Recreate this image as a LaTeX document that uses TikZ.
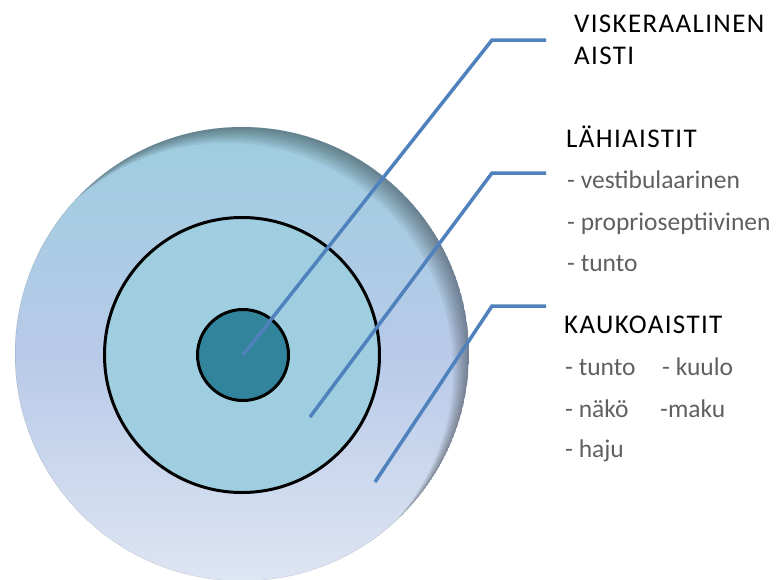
\documentclass[tikz,border=0pt]{standalone}
\usepackage{fontspec}
\setmainfont{Carlito}
\newfontfamily\headfont[LetterSpace=5]{Carlito}
\usetikzlibrary{positioning}

\definecolor{outertop}{RGB}{157,205,223}
\definecolor{outermid}{RGB}{184,202,232}
\definecolor{outerbot}{RGB}{222,229,243}
\definecolor{midfill}{RGB}{158,206,224}
\definecolor{corefill}{RGB}{49,132,155}
\definecolor{pointer}{RGB}{79,129,189}
\definecolor{itemgray}{RGB}{96,96,96}

\tikzstyle{outerdisc} = [circle, inner sep=0pt, minimum size=454pt, top color=outertop, bottom color=outerbot, middle color=outermid]
\tikzstyle{ring} = [circle, draw=black, line width=3pt, inner sep=0pt]
\tikzstyle{pointerline} = [draw=pointer, line width=3.5pt]
\tikzstyle{heading} = [anchor=base west, inner sep=0pt, text=black, font=\headfont\fontsize{27}{32}\selectfont]
\tikzstyle{item} = [anchor=base west, inner sep=0pt, text=itemgray, font=\fontsize{25.5}{30}\selectfont]

\begin{document}
\begin{tikzpicture}[x=1pt, y=-1pt]
\useasboundingbox (0,0) rectangle (780,579);
% circles
\node [outerdisc] (outer) at (242,354) {};
\begin{scope}
\clip (outer.center) circle (227pt);
\foreach \d in {2,4,...,16}
  \fill[black, opacity=0.05, even odd rule] (outer.center) circle (227pt) ([shift={(-\d,\d)}]outer.center) circle (227pt);
\end{scope}
\node [ring, fill=midfill, minimum size=275pt] (middle) at (242,355) {};
\node [ring, fill=corefill, minimum size=91pt] (core) at (243,355) {};

% labels
\node [heading] (visk) at (574,32) {VISKERAALINEN};
\node [heading] (aisti) at (574,64) {AISTI};
\node [heading] (lahi) at (566,147) {LÄHIAISTIT};
\node [item] (vest) at (567,188) {- vestibulaarinen};
\node [item] (prop) at (567,230) {- proprioseptiivinen};
\node [item] (tunto) at (567,271) {- tunto};
\node [heading] (kauko) at (564,333) {KAUKOAISTIT};
\node [item] (ktunto) at (565,375) {- tunto};
\node [item] (kuulo) at (662,375) {- kuulo};
\node [item] (nako) at (565,417) {- näkö};
\node [item] (maku) at (660,417) {-maku};
\node [item] (haju) at (565,457) {- haju};

% pointers
\coordinate (visk-bend) at (492,40);
\coordinate (visk-end) at (546,40);
\coordinate (lahi-start) at (310,417);
\coordinate (lahi-bend) at (492,173);
\coordinate (lahi-end) at (546,173);
\coordinate (kauko-start) at (375,482);
\coordinate (kauko-bend) at (492,306);
\coordinate (kauko-end) at (546,306);
\draw [pointerline] (core.center) -- (visk-bend) -- (visk-end);
\draw [pointerline] (lahi-start) -- (lahi-bend) -- (lahi-end);
\draw [pointerline] (kauko-start) -- (kauko-bend) -- (kauko-end);
\end{tikzpicture}
\end{document}
